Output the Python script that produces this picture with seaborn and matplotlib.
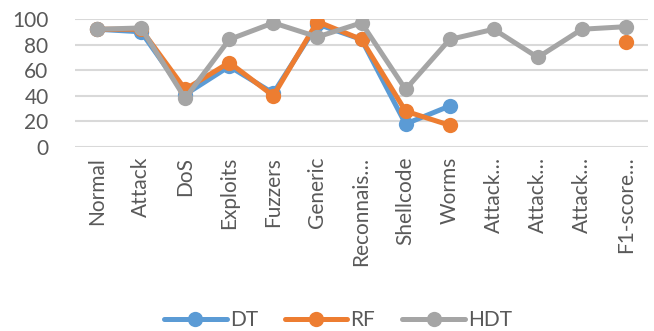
import numpy as np
import pandas as pd
import matplotlib
matplotlib.use("Agg")
import matplotlib.pyplot as plt
from matplotlib.lines import Line2D
import seaborn as sns

categories = ["Normal", "Attack", "DoS", "Exploits", "Fuzzers", "Generic",
              "Reconnais…", "Shellcode", "Worms", "Attack…", "Attack…",
              "Attack…", "F1-score…"]
dt_values = [92, 90, 41, 63, 42, 96, 84, 18, 32, np.nan, np.nan, np.nan, np.nan]
rf_values = [92, 92, 45, 66, 40, 98, 84, 28, 17, np.nan, np.nan, np.nan, 82]
hdt_values = [92, 93, 38, 84, 97, 86, 97, 45, 84, 92, 70, 92, 94]
y_ticks = [0, 20, 40, 60, 80, 100]

series = {"DT": dt_values, "RF": rf_values, "HDT": hdt_values}
palette = {"DT": "#5B9BD5", "RF": "#ED7D31", "HDT": "#A5A5A5"}

# long table; gaps split each series into separate runs (units)
rows = []
for name, vals in series.items():
    seg = 0
    prev_nan = True
    for i, v in enumerate(vals):
        if np.isnan(v):
            prev_nan = True
            continue
        if prev_nan:
            seg += 1
            prev_nan = False
        rows.append({"model": name, "x": i, "value": v, "run": f"{name}{seg}"})
df = pd.DataFrame(rows)

sns.set_theme(style="white")
plt.rcParams["font.family"] = ["Lato", "DejaVu Sans"]
text_color = "#595959"
fs = 15

fig = plt.figure(figsize=(6.54, 3.31), dpi=100)
ax = fig.add_axes([75 / 654, 1 - 147 / 331, 573 / 654, 128 / 331])

lw, ms = 3.6, 11
for name in ["DT", "RF", "HDT"]:
    sub = df[df["model"] == name]
    sns.lineplot(data=sub, x="x", y="value", units="run", estimator=None,
                 color=palette[name], linewidth=lw, marker="o",
                 markersize=ms, markeredgewidth=0, ax=ax, legend=False,
                 sort=False)

ax.set_xlim(-0.5, len(categories) - 0.5)
ax.set_ylim(0, 100)
ax.set_yticks(y_ticks)
ax.set_xticks(range(len(categories)))
ax.set_xticklabels(categories, rotation=90, fontsize=fs, color=text_color)
ax.tick_params(axis="y", labelsize=fs, labelcolor=text_color, length=0, pad=19)
ax.tick_params(axis="x", length=0, pad=7)
ax.set_xlabel("")
ax.set_ylabel("")
ax.grid(axis="y", color="#D9D9D9", linewidth=1.5)
ax.set_axisbelow(True)
for s in ax.spines.values():
    s.set_visible(False)

handles = [Line2D([0], [0], color=palette[n], linewidth=lw, marker="o",
                  markersize=ms, markeredgewidth=0) for n in series]
fig.legend(handles, list(series), loc="center", bbox_to_anchor=(0.517, 1 - 320 / 331),
           ncol=3, frameon=False, fontsize=fs, handlelength=3.0,
           columnspacing=1.3, handletextpad=0.15, labelcolor=text_color)

fig.savefig("out.png", dpi=100)
